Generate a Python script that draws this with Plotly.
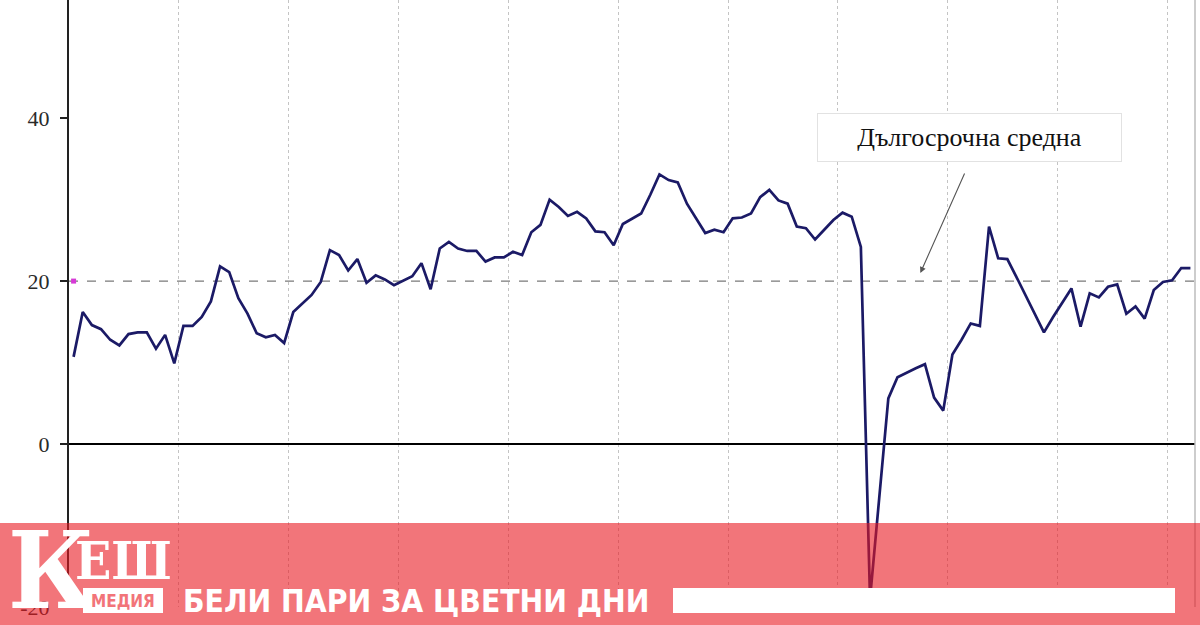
import plotly.graph_objects as go

# ---- data ----
months = list(range(123))
index_values = [
    10.7, 16.2, 14.6, 14.1, 12.8, 12.1, 13.5, 13.7, 13.7, 11.7,
    13.4, 9.9, 14.5, 14.5, 15.6, 17.5, 21.8, 21.1, 17.9, 16.0,
    13.6, 13.1, 13.4, 12.4, 16.2, 17.3, 18.3, 19.9, 23.8, 23.2,
    21.3, 22.7, 19.8, 20.7, 20.2, 19.5, 20.1, 20.6, 22.2, 19.0,
    24.0, 24.8, 24.0, 23.7, 23.7, 22.4, 22.9, 22.9, 23.6, 23.2,
    26.0, 26.9, 30.0, 29.1, 28.0, 28.5, 27.7, 26.1, 26.0, 24.4,
    27.0, 27.6, 28.3, 30.6, 33.1, 32.4, 32.1, 29.5, 27.7, 25.9,
    26.3, 26.0, 27.7, 27.8, 28.3, 30.3, 31.2, 29.9, 29.5, 26.7,
    26.5, 25.1, 26.3, 27.5, 28.4, 27.9, 24.2, -19.0, -6.7, 5.6,
    8.2, 8.8, 9.3, 9.8, 5.7, 4.1, 11.0, 12.8, 14.8, 14.5,
    26.7, 22.8, 22.7, 20.5, 18.2, 16.0, 13.7, 15.6, 17.4, 19.1,
    14.4, 18.5, 18.0, 19.3, 19.6, 16.0, 16.9, 15.4, 18.9, 19.9,
    20.1, 21.6, 21.6,
]
long_term_average = 20
y_ticks = [-20, 0, 20, 40]
y_tick_labels = ["-20", "0", "20", "40"]
year_boundaries = [11.5 + 12 * k for k in range(10)]
avg_label = "Дългосрочна средна"
brand_big = "К"
brand_rest = "ЕШ"
brand_sub = "МЕДИЯ"
slogan = "БЕЛИ ПАРИ ЗА ЦВЕТНИ ДНИ"

# ---- layout geometry ----
W, H = 1200, 625
L, R, T, B = 69, 5, 0, 18
PW, PH = W - L - R, H - T - B


def px(x):
    return (x - L) / PW


def py(y):
    return (H - B - y) / PH


fig = go.Figure()

fig.add_trace(go.Scatter(
    x=months, y=index_values, mode="lines",
    line=dict(color="#1b1a66", width=2.7),
    hoverinfo="skip", showlegend=False,
))
fig.add_trace(go.Scatter(
    x=[months[0]], y=[long_term_average], mode="markers",
    marker=dict(color="#d63ad6", size=5, symbol="square"),
    hoverinfo="skip", showlegend=False,
))

shapes = []
shapes.append(dict(type="line", xref="paper", yref="y", x0=0, x1=1,
                   y0=long_term_average, y1=long_term_average,
                   line=dict(color="#7a7a7a", width=1.2, dash="dash"), layer="below"))
shapes.append(dict(type="line", xref="paper", yref="paper", x0=1, x1=1, y0=0, y1=1,
                   line=dict(color="#bdbdbd", width=1.5)))
shapes.append(dict(type="rect", xref="paper", yref="paper",
                   x0=px(0), x1=px(W), y0=py(H), y1=py(523),
                   fillcolor="rgba(233,25,33,0.6)", line=dict(width=0), layer="above"))
shapes.append(dict(type="rect", xref="paper", yref="paper",
                   x0=px(673), x1=px(1175), y0=py(613), y1=py(588),
                   fillcolor="white", line=dict(width=0), layer="above"))
shapes.append(dict(type="rect", xref="paper", yref="paper",
                   x0=px(83), x1=px(163), y0=py(613), y1=py(588),
                   fillcolor="white", line=dict(width=0), layer="above"))

annotations = []
annotations.append(dict(
    x=92.5, y=21.0, ax=97.4, ay=33.4, xref="x", yref="y", axref="x", ayref="y",
    text="", showarrow=True, arrowhead=2, arrowsize=1.1, arrowwidth=1.1,
    arrowcolor="#555555",
))
annotations.append(dict(
    x=px(969.5), y=py(137.5), xref="paper", yref="paper",
    xanchor="center", yanchor="middle",
    text=avg_label, showarrow=False,
    font=dict(family="Liberation Serif", size=26, color="#111111"),
    bgcolor="white", bordercolor="#e2e2e2", borderwidth=1,
    width=301, height=45, borderpad=1,
))
annotations.append(dict(
    x=px(51), y=py(570), xref="paper", yref="paper", xanchor="center", yanchor="middle",
    text=f"<b>{brand_big}</b>", showarrow=False,
    font=dict(family="DejaVu Serif Condensed, Liberation Serif", size=106, color="white"),
))
annotations.append(dict(
    x=px(123), y=py(560), xref="paper", yref="paper", xanchor="center", yanchor="middle",
    text=f"<b>{brand_rest}</b>", showarrow=False,
    font=dict(family="DejaVu Serif Condensed, Liberation Serif", size=53, color="white"),
))
annotations.append(dict(
    x=px(123), y=py(600.5), xref="paper", yref="paper", xanchor="center", yanchor="middle",
    text=f"<b>{brand_sub}</b>", showarrow=False,
    font=dict(family="DejaVu Sans Condensed, Roboto", size=17, color="#f27479"),
))
annotations.append(dict(
    x=px(181), y=py(601), xref="paper", yref="paper", xanchor="left", yanchor="middle",
    text=f"<b>{slogan}</b>", showarrow=False,
    font=dict(family="DejaVu Sans Condensed, Roboto", size=31.5, color="white"),
))

fig.update_layout(
    width=W, height=H, autosize=False,
    margin=dict(l=L, r=R, t=T, b=B),
    paper_bgcolor="white", plot_bgcolor="white",
    shapes=shapes, annotations=annotations,
    xaxis=dict(range=[-0.5, 122.5], tickvals=year_boundaries, showticklabels=False,
               showgrid=True, gridcolor="#c4c4c4", griddash="dot", gridwidth=1,
               zeroline=False, showline=False, ticks=""),
    yaxis=dict(range=[-20, 54.5], tickvals=y_ticks, ticktext=y_tick_labels,
               ticks="outside", ticklen=7,
               tickwidth=1.5, tickcolor="#222222", showline=True, linecolor="#222222",
               linewidth=2, showgrid=False, zeroline=True, zerolinecolor="#000000",
               zerolinewidth=1.5, ticklabelstandoff=6,
               tickfont=dict(family="Liberation Serif", size=22, color="#2a2a2a")),
)

fig.write_html(
    "out.html",
    config={"displayModeBar": False},
    post_script="document.body.style.margin='0';document.body.style.overflow='hidden';",
)
